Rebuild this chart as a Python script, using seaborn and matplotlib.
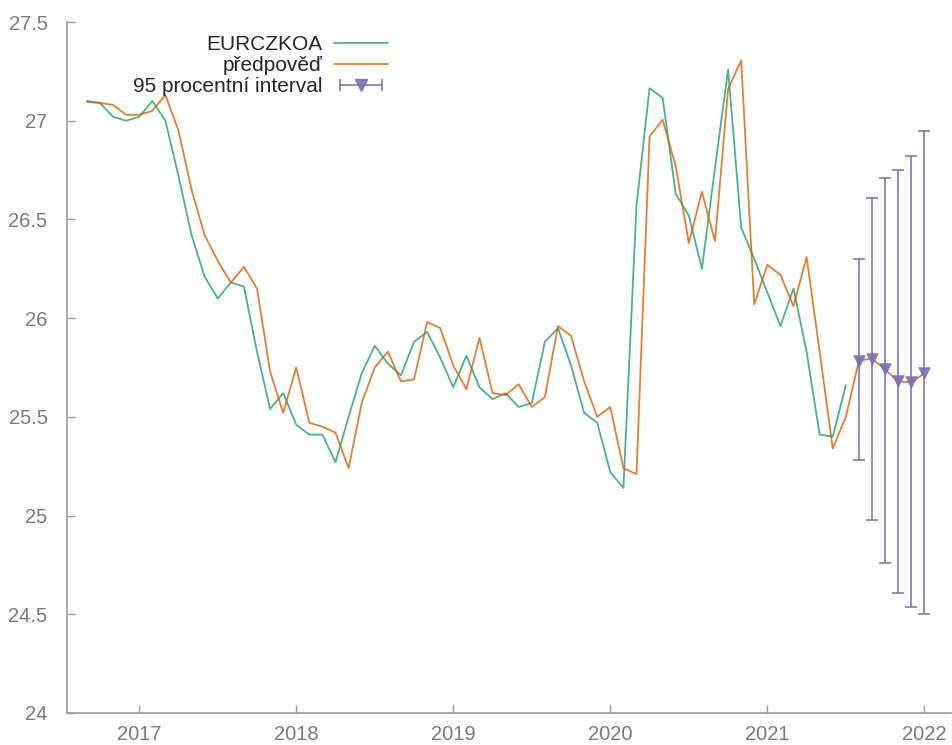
import numpy as np
import pandas as pd
import matplotlib
matplotlib.use("Agg")
import matplotlib.pyplot as plt
import seaborn as sns
from matplotlib.lines import Line2D
from matplotlib.legend_handler import HandlerLine2D, HandlerTuple

# ---------------- data ----------------
start = "2016-09"  # first monthly observation
actual = [27.10, 27.09, 27.02, 27.00, 27.02, 27.10, 27.00, 26.72, 26.42, 26.21,
          26.10, 26.18, 26.16, 25.83, 25.54, 25.62, 25.46, 25.41, 25.41, 25.27,
          25.50, 25.72, 25.86, 25.77, 25.71, 25.88, 25.93, 25.80, 25.65, 25.81,
          25.65, 25.59, 25.62, 25.55, 25.57, 25.88, 25.95, 25.76, 25.52, 25.47,
          25.22, 25.14, 26.57, 27.165, 27.115, 26.63, 26.52, 26.25, 26.76, 27.26,
          26.46, 26.30, 26.13, 25.96, 26.15, 25.83, 25.41, 25.40, 25.66]
predicted = [27.095, 27.09, 27.08, 27.03, 27.03, 27.05, 27.13, 26.95, 26.65, 26.42,
             26.29, 26.18, 26.26, 26.15, 25.73, 25.52, 25.75, 25.47, 25.45, 25.42,
             25.24, 25.57, 25.75, 25.83, 25.68, 25.69, 25.98, 25.95, 25.76, 25.64,
             25.90, 25.62, 25.61, 25.665, 25.55, 25.60, 25.96, 25.91, 25.68, 25.50,
             25.55, 25.24, 25.21, 26.92, 27.005, 26.77, 26.38, 26.64, 26.39, 27.16,
             27.305, 26.07, 26.27, 26.22, 26.06, 26.31, 25.83, 25.34, 25.50, 25.785,
             25.795, 25.74, 25.68, 25.675, 25.72]
forecast = [25.785, 25.795, 25.74, 25.68, 25.675, 25.72]
fc_low = [25.28, 24.98, 24.76, 24.61, 24.535, 24.50]
fc_high = [26.30, 26.61, 26.71, 26.75, 26.82, 26.95]

series_name = "EURCZKOA"
pred_name = "předpověď"
ci_name = "95 procentní interval"
x_ticks = [2017, 2018, 2019, 2020, 2021, 2022]
y_ticks = [24, 24.5, 25, 25.5, 26, 26.5, 27, 27.5]
y_ticklabels = ["24", "24.5", "25", "25.5", "26", "26.5", "27", "27.5"]

# ------------- build frames -------------
dates = pd.date_range(start, periods=len(predicted), freq="MS")
t_all = dates.year + (dates.month - 1) / 12.0
df_act = pd.DataFrame({"t": t_all[:len(actual)], "v": actual})
df_pred = pd.DataFrame({"t": t_all, "v": predicted})
t_fc = t_all[len(t_all) - len(forecast):]
df_fc = pd.DataFrame({"t": t_fc, "v": forecast, "lo": fc_low, "hi": fc_high})

c_green = "#1b9e77"
c_orange = "#d95f02"
c_purple = "#7570b3"

sns.set_style("ticks")
plt.rcParams["font.family"] = ["Liberation Sans", "DejaVu Sans"]

fig = plt.figure(figsize=(9.52, 7.45), dpi=100)
ax = fig.add_axes([67 / 952, 1 - 713 / 745, 1 - 67 / 952 - 0.001, (713 - 22) / 745])

sns.lineplot(data=df_act, x="t", y="v", ax=ax, color=c_green, lw=1.3, alpha=0.8)
sns.lineplot(data=df_pred, x="t", y="v", ax=ax, color=c_orange, lw=1.3, alpha=0.8)
ax.errorbar(df_fc["t"], df_fc["v"],
            yerr=[df_fc["v"] - df_fc["lo"], df_fc["hi"] - df_fc["v"]],
            fmt="none", ecolor=c_purple, elinewidth=1.4, capsize=4.5, capthick=1.4,
            alpha=0.8, zorder=3)
sns.scatterplot(data=df_fc, x="t", y="v", ax=ax, marker="v", s=70, color=c_purple,
                edgecolor=c_purple, linewidth=0.5, zorder=4, alpha=0.9)

ax.set_xlim(2016.54, 2022.17)
ax.set_ylim(24, 27.5)
ax.set_xticks(x_ticks)
ax.set_xticklabels([str(x) for x in x_ticks])
ax.set_yticks(y_ticks)
ax.set_yticklabels(y_ticklabels)
ax.set_xlabel("")
ax.set_ylabel("")
for s in ["top", "right"]:
    ax.spines[s].set_visible(False)
for s in ["left", "bottom"]:
    ax.spines[s].set_color("#9a9a9a")
    ax.spines[s].set_linewidth(1.2)
ax.tick_params(direction="in", length=6, width=1.0, color="#9a9a9a",
               labelcolor="#7a7a7a", labelsize=14.5)
ax.tick_params(axis="y", pad=14)
ax.tick_params(axis="x", pad=9)

# legend
h_act = Line2D([], [], color=c_green, lw=1.3, alpha=0.8)
h_pred = Line2D([], [], color=c_orange, lw=1.3, alpha=0.8)
h_bar = Line2D([], [], color=c_purple, lw=1.4, marker="|", markersize=9,
               markeredgewidth=1.4, alpha=0.8)
h_tri = Line2D([], [], color=c_purple, ls="none", marker="v", markersize=8, alpha=0.9)
leg = ax.legend([h_act, h_pred, (h_bar, h_tri)], [series_name, pred_name, ci_name],
                handler_map={h_bar: HandlerLine2D(numpoints=2),
                             h_tri: HandlerLine2D(numpoints=1),
                             tuple: HandlerTuple(ndivide=1, pad=0)},
                loc="upper right", bbox_to_anchor=(388 / 952, 1 - 35 / 745),
                bbox_transform=fig.transFigure, frameon=False, markerfirst=False,
                fontsize=15, handlelength=2.6, handletextpad=0.55,
                labelspacing=0.1, borderpad=0, borderaxespad=0)

fig.savefig("out.png", dpi=100)
